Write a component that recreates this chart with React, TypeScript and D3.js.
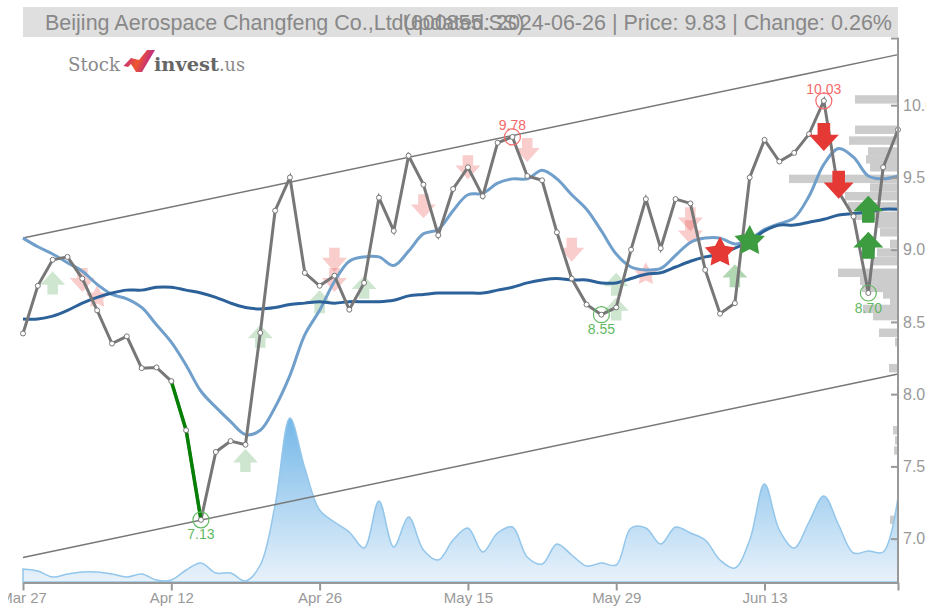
import { useEffect, useRef } from 'react';
import * as d3 from 'd3';

const WIDTH = 918;
const HEIGHT = 610;

// daily close
const closes = [
  8.42, 8.75, 8.93, 8.95, 8.8, 8.58, 8.35, 8.4, 8.18, 8.185,
  8.09, 7.75, 7.13, 7.6, 7.675, 7.65, 8.425, 9.27, 9.5, 8.84,
  8.75, 8.82, 8.585, 8.77, 9.36, 9.13, 9.65, 9.45, 9.1, 9.42,
  9.57, 9.37, 9.74, 9.78, 9.51, 9.48, 9.12, 8.8, 8.62, 8.55,
  8.6, 9.0, 9.35, 9.01, 9.35, 9.32, 8.86, 8.557, 8.63, 9.5,
  9.76, 9.61, 9.67, 9.8, 10.03, 9.4, 9.23, 8.7, 9.57, 9.83,
];

const fastMa = [
  9.08, 9.02, 8.97, 8.91, 8.85, 8.76, 8.69, 8.66, 8.6, 8.48,
  8.36, 8.2, 8.02, 7.91, 7.81, 7.72, 7.75, 7.91, 8.13, 8.41,
  8.58, 8.78, 8.92, 8.95, 8.95, 8.89, 8.99, 9.11, 9.14, 9.27,
  9.38, 9.39, 9.46, 9.49, 9.49, 9.55, 9.49, 9.38, 9.28, 9.13,
  8.97, 8.88, 8.86, 8.87, 8.96, 9.05, 9.08, 9.08, 9.04, 9.07,
  9.14, 9.18, 9.22, 9.37, 9.59, 9.7, 9.64, 9.51, 9.49, 9.51,
];

const slowMa = [
  8.52, 8.52, 8.54, 8.58, 8.63, 8.67, 8.7, 8.72, 8.72, 8.74,
  8.74, 8.72, 8.7, 8.67, 8.63, 8.6, 8.59, 8.6, 8.62, 8.63,
  8.64, 8.63, 8.64, 8.64, 8.64, 8.65, 8.68, 8.69, 8.7, 8.7,
  8.7, 8.7, 8.72, 8.74, 8.77, 8.79, 8.8, 8.79, 8.79, 8.77,
  8.77, 8.8, 8.83, 8.84, 8.88, 8.92, 8.95, 8.97, 9.01, 9.06,
  9.13, 9.17, 9.17, 9.19, 9.21, 9.24, 9.25, 9.26, 9.28, 9.28,
];

const volumes = [
  6.5, 5.5, 2.5, 4, 5, 5, 4, 2.5, 4, 1,
  1, 6, 9.5, 4.5, 4.5, 0.5, 8.5, 38.5, 82, 57,
  36, 30, 25, 17, 40.5, 17.5, 32.5, 16, 11, 21,
  27, 15, 24.5, 27.5, 12.5, 9, 19, 13.5, 8, 9.5,
  8.5, 27, 27, 19, 27.5, 24.5, 21, 11, 7, 21,
  49, 26, 17, 30, 43, 28.5, 14.5, 15.5, 15, 42.5,
];

// trend channel, first and last point
const channelIdx = [0, 59];
const channelUpper = [9.08, 10.35];
const channelLower = [6.87, 8.14];

// volume by price
const profilePrices = [
  10.04, 9.83, 9.755, 9.68, 9.625, 9.57, 9.49, 9.43, 9.37, 9.3, 9.235, 9.18, 9.12, 9.04, 8.98,
  8.92, 8.84, 8.785, 8.735, 8.69, 8.64, 8.59, 8.54, 8.425, 8.36, 8.18, 7.75, 7.68, 7.61, 7.13,
];
const profileVols = [
  43, 43, 49, 30, 32, 28, 109, 28, 53, 50, 45, 20, 18, 8, 21,
  26, 60, 38, 36, 15, 8, 35, 25, 19, 3, 9, 5, 3, 4, 8,
];

const tickIdx = [0, 10, 20, 30, 40, 50, 59];
const tickLabels = ['Mar 27', 'Apr 12', 'Apr 26', 'May 15', 'May 29', 'Jun 13', ''];
const priceTicks = [7, 7.5, 8, 8.5, 9, 9.5, 10];

// signals: index, price level, shape
const weakSell = [[4, 8.79], [21, 8.93], [21, 8.79], [27, 9.3], [30, 9.57], [34, 9.69], [37, 9.0], [45, 9.21], [45, 9.12]];
const weakSellStars = [[5, 8.67], [42, 8.83]];
const weakBuy = [[2, 8.77], [15, 7.54], [16, 8.4], [20, 8.64], [23, 8.74], [40, 8.76], [40, 8.59]];
const midBuy = [[48, 8.82]];
const strongSell = [[54, 9.78], [55, 9.45]];
const strongBuy = [[57, 9.28], [57, 9.03]];
const sellStar = [[47, 8.98]];
const buyStar = [[49, 9.06]];

// highs and lows with a ring and a label
const peaks = [33, 54];
const troughs = [12, 39, 57];
const downLeg = [10, 11, 12];

const GREY = '#777777';
const RED = '#e53935';
const GREEN = '#3d9c3f';

const arrowPath = (w: number, h: number, up: boolean) => {
  const s = up ? -1 : 1;
  const shaft = w * 0.42;
  const head = h * 0.58;
  const top = (-h / 2) * s;
  const neck = (h / 2 - head) * s;
  const tip = (h / 2) * s;
  return `M${-shaft / 2},${top}L${shaft / 2},${top}L${shaft / 2},${neck}L${w / 2},${neck}L0,${tip}L${-w / 2},${neck}L${-shaft / 2},${neck}Z`;
};

// d3.symbolStar is too thin for these, so a fatter five point star
const starPath = (r: number) => {
  const pts = d3.range(10).map(i => [(i * Math.PI) / 5, i % 2 ? r * 0.52 : r] as [number, number]);
  return d3.lineRadial().curve(d3.curveLinearClosed)(pts) as string;
};

export default function App() {
  const ref = useRef<SVGSVGElement>(null);

  useEffect(() => {
    const svg = d3.select(ref.current);
    svg.selectAll('*').remove();

    const x = d3.scalePoint<number>().domain(d3.range(closes.length)).range([15, 890]);
    const y = d3.scaleLinear().domain([6.695, 10.465]).range([582.7, 38]);
    const yVol = d3.scaleLinear().domain([0, 100]).range([582, 382]);
    const xProfile = d3.scaleLinear().domain([0, 109]).range([890, 781]);

    const defs = svg.append('defs');
    const areaGrad = defs.append('linearGradient')
      .attr('id', 'volFill')
      .attr('gradientUnits', 'userSpaceOnUse')
      .attr('x1', 0).attr('x2', 0).attr('y1', 418).attr('y2', 582);
    areaGrad.append('stop').attr('offset', '0%').attr('stop-color', '#74b7e8');
    areaGrad.append('stop').attr('offset', '100%').attr('stop-color', '#e8f2fb');
    const logoGrad = defs.append('linearGradient')
      .attr('id', 'logoFill')
      .attr('x1', 0).attr('x2', 1).attr('y1', 0).attr('y2', 0.3);
    logoGrad.append('stop').attr('offset', '0%').attr('stop-color', '#b3219c');
    logoGrad.append('stop').attr('offset', '55%').attr('stop-color', '#f0582a');
    logoGrad.append('stop').attr('offset', '100%').attr('stop-color', '#b3219c');

    // title band
    svg.append('rect').attr('x', 15).attr('y', 7).attr('width', 875).attr('height', 30).attr('fill', '#dfdfdf');
    const titleFont = '"Liberation Sans", Arial, sans-serif';
    svg.append('text')
      .attr('x', 37).attr('y', 30)
      .attr('font-family', titleFont).attr('font-size', 21.5).attr('fill', '#888888')
      .text('Beijing Aerospace Changfeng Co.,Ltd(600855.SS)');
    svg.append('text')
      .attr('x', 884).attr('y', 30).attr('text-anchor', 'end')
      .attr('font-family', titleFont).attr('font-size', 21.5).attr('fill', '#888888')
      .text('Updated: 2024-06-26 | Price: 9.83 | Change: 0.26%');

    // logo
    const logo = svg.append('g').attr('font-family', '"DejaVu Serif", serif');
    logo.append('text').attr('x', 60).attr('y', 71).attr('font-size', 18).attr('fill', '#8a8a8a')
      .attr('textLength', 52).attr('lengthAdjust', 'spacingAndGlyphs').text('Stock');
    logo.append('polygon')
      .attr('points', '115.5,66 123,58 131,60 139,50 147,50 134,72 128,72 123,64 120,67')
      .attr('fill', 'url(#logoFill)');
    logo.append('text').attr('x', 146).attr('y', 71).attr('font-size', 18).attr('font-weight', 700).attr('fill', '#666666')
      .attr('textLength', 65).attr('lengthAdjust', 'spacingAndGlyphs').text('invest');
    logo.append('text').attr('x', 211).attr('y', 71).attr('font-size', 18).attr('fill', '#8a8a8a')
      .attr('textLength', 26).attr('lengthAdjust', 'spacingAndGlyphs').text('.us');

    // volume by price, behind everything
    svg.append('g').selectAll('rect')
      .data(profilePrices)
      .join('rect')
      .attr('x', (_d, i) => xProfile(profileVols[i]))
      .attr('y', d => y(d) - 4.2)
      .attr('width', (_d, i) => 890 - xProfile(profileVols[i]))
      .attr('height', 8.4)
      .attr('fill', '#cccccc');

    // volume area
    const area = d3.area<number>()
      .x((_d, i) => x(i) as number)
      .y0(yVol(0))
      .y1(d => yVol(d))
      .curve(d3.curveCatmullRom);
    svg.append('path').datum(volumes)
      .attr('d', area)
      .attr('fill', 'url(#volFill)')
      .attr('stroke', '#93c6ea')
      .attr('stroke-width', 1.5);

    // channel
    const channel = d3.line<number>().x((_d, i) => x(channelIdx[i]) as number).y(d => y(d));
    [channelUpper, channelLower].forEach(vals => {
      svg.append('path').attr('d', channel(vals)).attr('fill', 'none').attr('stroke', GREY).attr('stroke-width', 1.5);
    });

    const drawArrows = (rows: number[][], up: boolean, color: string, opacity: number, w: number, h: number) => {
      svg.append('g').selectAll('path')
        .data(rows)
        .join('path')
        .attr('d', arrowPath(w, h, up))
        .attr('transform', d => `translate(${x(d[0])},${y(d[1])})`)
        .attr('fill', color)
        .attr('opacity', opacity);
    };
    const drawStars = (rows: number[][], color: string, opacity: number, r: number) => {
      svg.append('g').selectAll('path')
        .data(rows)
        .join('path')
        .attr('d', starPath(r))
        .attr('transform', d => `translate(${x(d[0])},${y(d[1])})`)
        .attr('fill', color)
        .attr('opacity', opacity);
    };

    drawArrows(weakSell, false, RED, 0.25, 25, 24);
    drawStars(weakSellStars, RED, 0.25, 12);
    drawArrows(weakBuy, true, GREEN, 0.25, 25, 23);
    drawArrows(midBuy, true, GREEN, 0.4, 25, 23);

    // moving averages
    const maLine = d3.line<number>()
      .x((_d, i) => x(i) as number)
      .y(d => y(d))
      .curve(d3.curveCatmullRom);
    svg.append('path').attr('d', maLine(fastMa)).attr('fill', 'none').attr('stroke', '#6f9fca').attr('stroke-width', 3);
    svg.append('path').attr('d', maLine(slowMa)).attr('fill', 'none').attr('stroke', '#2c6299').attr('stroke-width', 3);

    // price
    const priceLine = d3.line<number>().x((_d, i) => x(i) as number).y(d => y(d));
    svg.append('path').attr('d', priceLine(closes)).attr('fill', 'none').attr('stroke', GREY).attr('stroke-width', 3);
    const legLine = d3.line<number>().x(i => x(i) as number).y(i => y(closes[i]));
    svg.append('path').attr('d', legLine(downLeg)).attr('fill', 'none').attr('stroke', '#058005').attr('stroke-width', 3.5);
    svg.append('g').selectAll('circle')
      .data(closes)
      .join('circle')
      .attr('cx', (_d, i) => x(i) as number)
      .attr('cy', d => y(d))
      .attr('r', 2.5)
      .attr('fill', '#ffffff')
      .attr('stroke', GREY)
      .attr('stroke-width', 1);

    drawArrows(strongSell, false, RED, 1, 30, 28);
    drawArrows(strongBuy, true, GREEN, 1, 30, 27);
    drawStars(sellStar, RED, 1, 16);
    drawStars(buyStar, GREEN, 1, 16);

    // rings
    const rings = (idx: number[], color: string, dy: number) => {
      const g = svg.append('g');
      g.selectAll('circle').data(idx).join('circle')
        .attr('cx', i => x(i) as number)
        .attr('cy', i => y(closes[i]))
        .attr('r', 8)
        .attr('fill', 'none')
        .attr('stroke', color)
        .attr('stroke-width', 1.2);
      g.selectAll('text').data(idx).join('text')
        .attr('x', i => x(i) as number)
        .attr('y', i => y(closes[i]) + dy)
        .attr('text-anchor', 'middle')
        .attr('font-family', titleFont)
        .attr('font-size', 14)
        .attr('fill', color)
        .text(i => closes[i].toFixed(2));
    };
    rings(peaks, '#f46a6a', -6.5);
    rings(troughs, '#62b862', 19.5);

    // axes
    const xAxis = svg.append('g')
      .attr('transform', 'translate(0,582.5)')
      .call(d3.axisBottom(x).tickValues(tickIdx).tickFormat((_d, i) => tickLabels[i]).tickSize(8).tickSizeOuter(0));
    const yAxis = svg.append('g')
      .attr('transform', 'translate(890,0)')
      .call(d3.axisRight(y).tickValues(priceTicks).tickFormat(d3.format('.1f')).tickSize(0).tickSizeOuter(0));
    yAxis.selectAll('.tick line').attr('x1', -7).attr('x2', 0);
    yAxis.select('.domain').attr('d', 'M-7,38.5H0V582.5');
    yAxis.selectAll('text').attr('x', 5);
    [xAxis, yAxis].forEach(a => {
      a.selectAll('.domain, .tick line').attr('stroke', '#999999').attr('stroke-width', 2).attr('fill', 'none');
      a.selectAll('text').attr('fill', '#999999').attr('font-family', titleFont).attr('font-size', a === xAxis ? 15 : 16);
    });
    xAxis.selectAll('text').attr('y', 10);
  }, []);

  return (
    <svg
      ref={ref}
      width={WIDTH}
      height={HEIGHT}
      style={{ position: 'absolute', left: 8, top: 0 }}
    />
  );
}
